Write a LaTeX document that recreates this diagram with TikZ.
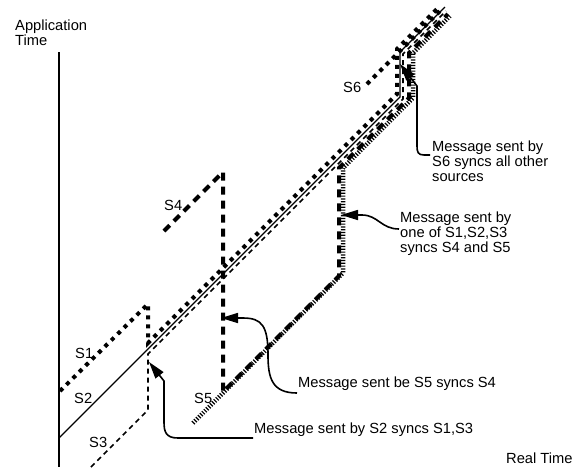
\documentclass[tikz,border=0pt]{standalone}
\usepackage{fontspec}
\setmainfont{Liberation Sans}
\usetikzlibrary{arrows.meta,calc}
\begin{document}
\begin{tikzpicture}[x=1pt,y=-1pt,
  lbl/.style={inner sep=0pt, font=\fontsize{14.7}{15}\selectfont},
  note/.style={lbl, align=left, anchor=north west},
  conn/.style={line width=1.6pt, -{Triangle[length=17pt,width=10pt]}},
  axisline/.style={line width=2.2pt},
  srcone/.style={line width=4pt, dash pattern=on 4pt off 5pt},
  srctwo/.style={line width=1.4pt},
  srcthree/.style={line width=1.7pt, dash pattern=on 5pt off 4pt},
  srcfour/.style={line width=4pt, dash pattern=on 8pt off 6pt},
  srcfive/.style={line width=4.5pt, dash pattern=on 1.2pt off 1.6pt},
  srcsix/.style={srcone}]
\useasboundingbox (0,0) rectangle (584,467);

% axis
\coordinate (axtop) at (59,52);
\coordinate (axbot) at (59,467);
\draw[axisline] (axtop) -- (axbot);

% clock lines of the six sources
\draw[srcone]   (60,391) -- (148,304) -- (148,343) -- (397,94) -- (397,49) -- (440,6);
\draw[srctwo]   (59,438) -- (400,97) -- (400,52) -- (445,7);
\draw[srcthree] (91,467) -- (148,410) -- (148,354) -- (403,99) -- (403,54) -- (446,11);
\draw[srcfive]  (193,423) -- (343,273) -- (343,168) -- (413,98) -- (413,53) -- (450,16);
\draw[srcfour]  (164,231) -- (223,172) -- (223,392) -- (339,276) -- (339,168) -- (409,98) -- (409,53) -- (448,14);
\draw[srcsix]   (367,84) -- (442,9);

% labels
\node[note] (ylabel) at (15,20) {Application\\Time};
\node[lbl, anchor=base west] (xlabel) at (506,463) {Real Time};
\node[lbl, anchor=base west] (s1) at (75,358) {S1};
\node[lbl, anchor=base west] (s2) at (74,403) {S2};
\node[lbl, anchor=base west] (s3) at (89,447) {S3};
\node[lbl, anchor=base west] (s4) at (164,210) {S4};
\node[lbl, anchor=base west] (s5) at (194,403) {S5};
\node[lbl, anchor=base west] (s6) at (343,92) {S6};

\node[note] (m6) at (432,141) {Message sent by\\S6 syncs all other\\sources};
\node[note] (m45) at (400,212) {Message sent by\\one of S1,S2,S3\\syncs S4 and S5};
\node[lbl, anchor=base west] (m5) at (298,387) {Message sent be S5 syncs S4};
\node[lbl, anchor=base west] (m2) at (254,433) {Message sent by S2 syncs S1,S3};

% callouts
\coordinate (tip6) at (400,64);
\coordinate (tip45) at (341,215);
\coordinate (tip5) at (221,318);
\coordinate (tip2) at (149,362);

\draw[conn] ($(m6.north west)+(-2,14)$) -- (424,155)
  .. controls (418,155) and (417,152) .. (417,146) -- (417,86) -- (tip6);
\draw[conn] ($(m45.north west)+(-1,17)$) .. controls (381,229) and (378,215) .. (362,215) -- (tip45);
\draw[conn] ($(m5.base west)+(-1,6)$) .. controls (272,393) and (268,378) .. (268,355)
  .. controls (268,326) and (262,318) .. (243,318) -- (tip5);
\draw[conn] ($(m2.base west)+(-1,5)$) -- (178,438)
  .. controls (166,438) and (164,432) .. (164,422) -- (164,381) -- (tip2);
\end{tikzpicture}
\end{document}
